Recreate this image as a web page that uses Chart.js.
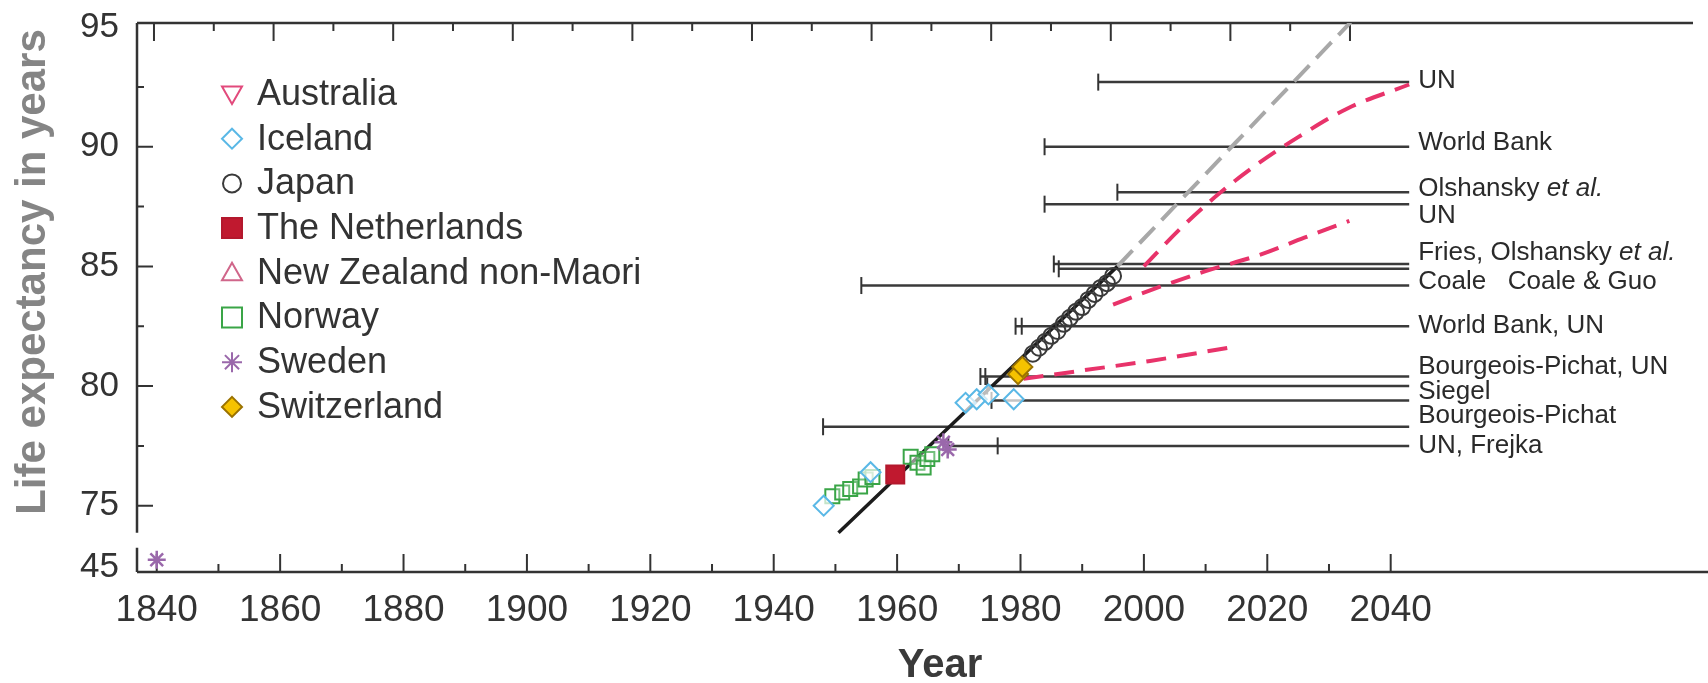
<!DOCTYPE html>
<html>
<head>
<meta charset="utf-8">
<script src="https://cdn.jsdelivr.net/npm/chart.js@4.4.1/dist/chart.umd.min.js"></script>
<style>
  html, body { margin: 0; padding: 0; background: #ffffff; }
  #wrap { width: 1708px; height: 683px; }
</style>
</head>
<body>
<div id="wrap"><canvas id="lifeChart" width="1708" height="683"></canvas></div>
<script>
// Axis ticks
const yearTicks = [1840, 1860, 1880, 1900, 1920, 1940, 1960, 1980, 2000, 2020, 2040];
const lifeTicks = [75, 80, 85, 90, 95];
const brokenTick = 45; // value shown below the axis break

// Record life expectancy observations [year, years]
const australia = [];
const newZealand = [];
const iceland = [[1948.1, 75.0], [1955.7, 76.4], [1971.1, 79.3], [1972.9, 79.45], [1974.8, 79.65], [1978.9, 79.45]];
const japan = [[1982, 81.35], [1983, 81.6], [1984, 81.85], [1985, 82.1], [1986, 82.3], [1987, 82.6], [1988, 82.85],
  [1989, 83.1], [1990, 83.3], [1991, 83.6], [1992, 83.85], [1993, 84.1], [1994, 84.3], [1995, 84.6]];
const netherlands = [[1959.7, 76.3]];
const norway = [[1949.5, 75.4], [1951.1, 75.55], [1952.4, 75.7], [1954.0, 75.8], [1954.9, 76.1], [1956.0, 76.2],
  [1962.2, 77.05], [1963.3, 76.8], [1964.3, 76.6], [1964.9, 76.95], [1965.7, 77.15]];
const sweden = [[1840, 45.3], [1967.5, 77.65], [1968.2, 77.35]];
const switzerland = [[1979.6, 80.5], [1980.3, 80.8]];

// Linear trend and its extrapolation
const trendLine = [[1950.5, 73.87], [1995.7, 85.0]];
const trendExtrapolated = [[1995.7, 85.0], [2033.5, 95.2]];

// Projections (red dashed)
const projectionHigh = [[2000, 85.0], [2006, 86.6], [2012, 88.0], [2018, 89.2], [2025, 90.4], [2033, 91.6], [2043, 92.6]];
const projectionMid = [[1995, 83.4], [2001, 84.0], [2010, 84.8], [2019, 85.5], [2026, 86.2], [2033.3, 86.9]];
const projectionLow = [[1980.5, 80.3], [1990, 80.65], [2001, 81.05], [2013.7, 81.6]];

// Asserted ceilings: level, publication year where the line starts
const ceilingLevel = [92.7, 90.0, 88.1, 87.6, 85.1, 84.9, 84.2, 82.5, 80.4, 80.0, 79.4, 78.3, 77.5];
const ceilingFrom = [1992.6, 1983.9, 1995.7, 1983.9, 1985.4, 1986.2, 1954.2, 1979.2, 1973.5, 1974.6, 1975.3, 1948.0, 1968.3];
const ceilingTo = 2043;
const ceilingMarks = [[1992.6, 92.7], [1983.9, 90.0], [1995.7, 88.1], [1983.9, 87.6], [1985.4, 85.1], [1986.2, 84.9],
  [1954.2, 84.2], [1979.2, 82.5], [1980.2, 82.5], [1973.5, 80.4], [1974.3, 80.4], [1974.6, 80.0], [1975.3, 79.4],
  [1948.0, 78.3], [1968.3, 77.5], [1976.3, 77.5]];
const ceilingLabels = ["UN", "World Bank", "Olshansky et al.", "UN", "Fries, Olshansky et al.", "Coale   Coale & Guo",
  "World Bank, UN", "Bourgeois-Pichat, UN", "Siegel", "Bourgeois-Pichat", "UN, Frejka"];
const ceilingLabelAt = [92.75, 90.15, 88.25, 87.1, 85.55, 84.35, 82.5, 80.8, 79.75, 78.75, 77.5];

const countryNames = ["Australia", "Iceland", "Japan", "The Netherlands", "New Zealand non-Maori", "Norway", "Sweden", "Switzerland"];

const FONT = '"Liberation Sans", Arial, Helvetica, sans-serif';
const BREAK_POS = 72.44; // where 45 sits on the broken axis
const brk = v => (v < 70 ? BREAK_POS + (v - brokenTick) : v);
const pts = arr => arr.map(([x, y]) => ({ x, y: brk(y) }));

const markerStyle = {
  "Australia": { style: "triangleDown", color: "#e24a7c", fill: "rgba(255,255,255,0)", r: 9 },
  "Iceland": { style: "rectRot", color: "#5ab8e6", fill: "rgba(255,255,255,0.7)", r: 10 },
  "Japan": { style: "circle", color: "#3a3a3a", fill: "rgba(255,255,255,0)", r: 8 },
  "The Netherlands": { style: "rect", color: "#b3182d", fill: "#c0192f", r: 9 },
  "New Zealand non-Maori": { style: "triangle", color: "#d0668a", fill: "rgba(255,255,255,0)", r: 9 },
  "Norway": { style: "rect", color: "#3aa547", fill: "rgba(255,255,255,0.3)", r: 7 },
  "Sweden": { style: "star", color: "#9a68ab", fill: "#9a68ab", r: 9 },
  "Switzerland": { style: "rectRot", color: "#9a7200", fill: "#f5c200", r: 10 }
};

function pointSet(name, arr) {
  const m = markerStyle[name];
  const chartStyle = m.style === "triangleDown" ? "triangle" : m.style;
  return {
    label: name,
    data: pts(arr),
    pointStyle: chartStyle,
    rotation: m.style === "triangleDown" ? 180 : 0,
    radius: m.style === "rect" ? m.r / Math.SQRT1_2 : m.r,
    borderColor: m.color,
    backgroundColor: m.fill,
    borderWidth: m.style === "star" ? 2.5 : 2
  };
}

function lineSet(arr, color, width, dash) {
  return {
    data: pts(arr),
    showLine: true,
    borderColor: color,
    borderWidth: width,
    borderDash: dash || [],
    pointRadius: 0,
    cubicInterpolationMode: "monotone"
  };
}

const datasets = [
  pointSet("Switzerland", switzerland),
  pointSet("The Netherlands", netherlands),
  pointSet("Sweden", sweden),
  pointSet("Iceland", iceland),
  pointSet("Japan", japan),
  pointSet("Norway", norway),
  pointSet("Australia", australia),
  pointSet("New Zealand non-Maori", newZealand),
  lineSet(trendLine, "#1c1c1c", 3.5),
  lineSet(projectionHigh, "#e8336a", 4, [20, 11]),
  lineSet(projectionMid, "#e8336a", 4, [20, 11]),
  lineSet(projectionLow, "#e8336a", 4, [20, 11]),
  lineSet(trendExtrapolated, "#a8a8a8", 4, [22, 10]),
  {
    data: pts(ceilingMarks),
    pointStyle: "line",
    rotation: 90,
    radius: 8.5,
    borderColor: "#333333",
    borderWidth: 2
  }
];
ceilingLevel.forEach((v, i) => {
  datasets.push(lineSet([[ceilingFrom[i], v], [ceilingTo, v]], "#3a3a3a", 2.5));
});

function drawMarker(ctx, style, x, y, r) {
  ctx.beginPath();
  if (style === "circle") {
    ctx.arc(x, y, r, 0, Math.PI * 2);
  } else if (style === "rect") {
    ctx.rect(x - r, y - r, 2 * r, 2 * r);
  } else if (style === "rectRot") {
    ctx.moveTo(x, y - r); ctx.lineTo(x + r, y); ctx.lineTo(x, y + r); ctx.lineTo(x - r, y); ctx.closePath();
  } else if (style === "triangle") {
    ctx.moveTo(x, y - r); ctx.lineTo(x + r, y + r * 0.75); ctx.lineTo(x - r, y + r * 0.75); ctx.closePath();
  } else if (style === "triangleDown") {
    ctx.moveTo(x, y + r); ctx.lineTo(x + r, y - r * 0.75); ctx.lineTo(x - r, y - r * 0.75); ctx.closePath();
  } else if (style === "star") {
    for (let k = 0; k < 4; k++) {
      const a = k * Math.PI / 4;
      ctx.moveTo(x - Math.cos(a) * r, y - Math.sin(a) * r);
      ctx.lineTo(x + Math.cos(a) * r, y + Math.sin(a) * r);
    }
    ctx.stroke();
    return;
  }
  ctx.fill();
  ctx.stroke();
}

// text with italic "et al."
function drawRich(ctx, text, x, y, size) {
  const parts = text.split(/(et al\.)/);
  parts.forEach(p => {
    if (!p) return;
    ctx.font = (p === "et al." ? "italic " : "") + size + "px " + FONT;
    ctx.fillText(p, x, y);
    x += ctx.measureText(p).width;
  });
}

const framePlugin = {
  id: "frame",
  beforeDatasetsDraw(chart) {
    const { ctx, chartArea: a, scales: { x, xTop, y } } = chart;
    ctx.save();
    ctx.strokeStyle = "#333333";
    ctx.lineWidth = 2.5;
    ctx.beginPath();
    ctx.moveTo(a.left, a.top); ctx.lineTo(a.right, a.top);
    ctx.moveTo(a.left, a.bottom); ctx.lineTo(chart.width, a.bottom);
    ctx.moveTo(a.left, a.top); ctx.lineTo(a.left, y.getPixelForValue(73.87));
    ctx.moveTo(a.left, y.getPixelForValue(73.24)); ctx.lineTo(a.left, a.bottom);
    ctx.stroke();
    ctx.lineWidth = 2;
    ctx.beginPath();
    for (let v = 75; v <= 92.5; v += 2.5) {
      const py = y.getPixelForValue(v);
      const len = v % 5 === 0 ? 16 : 7;
      ctx.moveTo(a.left, py); ctx.lineTo(a.left + len, py);
    }
    for (let t = yearTicks[0]; t <= yearTicks[yearTicks.length - 1]; t += 10) {
      const len = t % 20 === 0 ? 18 : 8;
      const pb = x.getPixelForValue(t);
      const pt = xTop.getPixelForValue(t);
      ctx.moveTo(pb, a.bottom); ctx.lineTo(pb, a.bottom - len);
      ctx.moveTo(pt, a.top); ctx.lineTo(pt, a.top + len);
    }
    ctx.stroke();
    ctx.restore();
  },
  afterDraw(chart) {
    const { ctx, scales: { x, y } } = chart;
    ctx.save();
    // ceiling labels
    ctx.fillStyle = "#2a2a2a";
    ctx.textBaseline = "middle";
    ctx.textAlign = "left";
    const lx = x.getPixelForValue(ceilingTo) + 9;
    ceilingLabels.forEach((t, i) => drawRich(ctx, t, lx, y.getPixelForValue(ceilingLabelAt[i]), 26));

    // legend
    countryNames.forEach((name, i) => {
      const m = markerStyle[name];
      const cy = 94 + i * 44.7;
      ctx.strokeStyle = m.color;
      ctx.fillStyle = m.fill;
      ctx.lineWidth = 2;
      drawMarker(ctx, m.style, 232, cy, m.style === "circle" ? 9 : 10);
      ctx.fillStyle = "#333333";
      ctx.font = "36px " + FONT;
      ctx.fillText(name, 257, cy + 1);
    });

    // axis titles
    ctx.fillStyle = "#858585";
    ctx.font = "bold 42px " + FONT;
    ctx.textAlign = "center";
    ctx.translate(33, 272);
    ctx.rotate(-Math.PI / 2);
    ctx.fillText("Life expectancy in years", 0, 0);
    ctx.setTransform(1, 0, 0, 1, 0, 0);
    ctx.fillStyle = "#3a3a3a";
    ctx.font = "bold 40px " + FONT;
    ctx.fillText("Year", 940, 666);
    ctx.restore();
  }
};

new Chart(document.getElementById("lifeChart").getContext("2d"), {
  type: "scatter",
  data: { datasets },
  options: {
    responsive: false,
    animation: false,
    events: [],
    layout: { padding: { top: 23, right: 15, left: 0, bottom: 0 } },
    plugins: { legend: { display: false }, tooltip: { enabled: false } },
    scales: {
      x: {
        type: "linear",
        min: 1836.8,
        max: 2089,
        grid: { display: false, drawTicks: false },
        border: { display: false },
        afterBuildTicks: s => { s.ticks = yearTicks.map(v => ({ value: v })); },
        afterFit: s => { s.height = 111; s.paddingLeft = 0; s.paddingRight = 0; },
        ticks: {
          font: { family: FONT, size: 37 },
          color: "#333333",
          padding: 17,
          maxRotation: 0,
          autoSkip: false,
          callback: v => String(v)
        }
      },
      // top frame ticks sit on a slightly tighter spacing in the source figure
      xTop: {
        type: "linear",
        position: "top",
        min: 1837.16,
        max: 2097.36,
        grid: { display: false, drawTicks: false },
        border: { display: false },
        ticks: { display: false },
        afterFit: s => { s.height = 0; s.paddingLeft = 0; s.paddingRight = 0; }
      },
      y: {
        type: "linear",
        min: 72.23,
        max: 95.17,
        grid: { display: false, drawTicks: false },
        border: { display: false },
        afterBuildTicks: s => { s.ticks = [{ value: BREAK_POS }].concat(lifeTicks.map(v => ({ value: v }))); },
        afterFit: s => { s.width = 137; s.paddingTop = 0; s.paddingBottom = 0; },
        ticks: {
          font: { family: FONT, size: 35 },
          color: "#333333",
          padding: 18,
          autoSkip: false,
          callback: v => (v < 74 ? String(brokenTick) : String(v))
        }
      }
    }
  },
  plugins: [framePlugin]
});
</script>
</body>
</html>
